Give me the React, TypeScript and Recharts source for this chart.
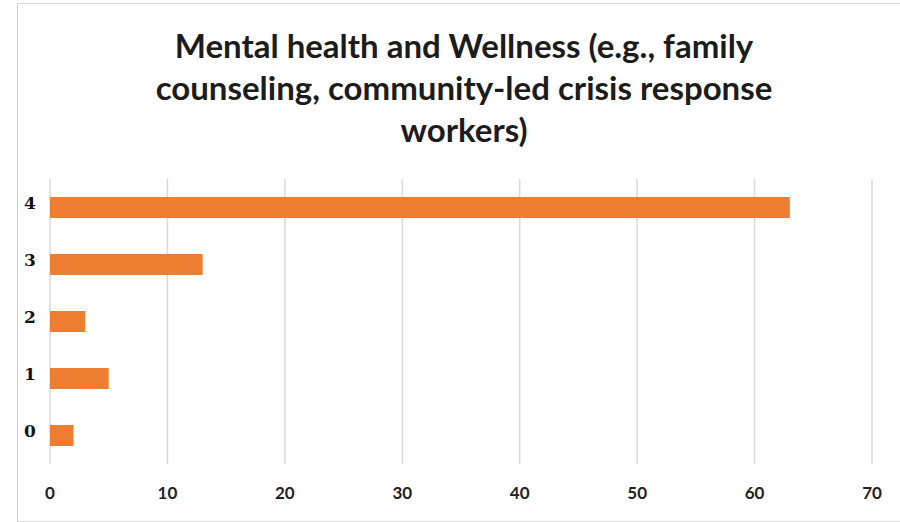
import { BarChart, Bar, XAxis, YAxis, CartesianGrid } from 'recharts';

const categories = ['4', '3', '2', '1', '0'];
const counts = [63, 13, 3, 5, 2];
const xTicks = [0, 10, 20, 30, 40, 50, 60, 70];
const titleLines = [
  'Mental health and Wellness (e.g., family',
  'counseling, community-led crisis response',
  'workers)',
];

const data = categories.map((c, i) => ({ name: c, value: counts[i] }));

const YTick = ({ y, payload }: any) => (
  <text
    x={30}
    y={y - 5}
    textAnchor="middle"
    dominantBaseline="central"
    fontFamily="'DejaVu Serif', serif"
    fontWeight="bold"
    fontSize={17}
    fill="#111"
  >
    {payload.value}
  </text>
);

const XTick = ({ x, y, payload }: any) => (
  <text
    x={x}
    y={y}
    dy={20}
    textAnchor="middle"
    dominantBaseline="central"
    fontFamily="Lato, sans-serif"
    fontWeight="bold"
    fontSize={17}
    fill="#222"
  >
    {payload.value}
  </text>
);

export default function App() {
  return (
    <div
      style={{
        position: 'absolute',
        left: 0,
        top: 0,
        width: 900,
        height: 522,
        background: '#fff',
      }}
    >
      <div
        style={{
          position: 'absolute',
          left: 17,
          top: 3,
          width: 900,
          height: 517,
          borderLeft: '1px solid #cfcfcf',
          borderTop: '1px solid #d8d8d8',
          borderBottom: '1px solid #d8d8d8',
        }}
      />
      <div
        style={{
          position: 'absolute',
          left: 28,
          top: 24,
          width: 872,
          textAlign: 'center',
          fontFamily: 'Lato, sans-serif',
          fontWeight: 'bold',
          fontSize: 33,
          lineHeight: '42px',
          color: '#1c1c1c',
        }}
      >
        {titleLines.map((l, i) => (
          <div key={i}>{l}</div>
        ))}
      </div>
      <BarChart
        width={900}
        height={522}
        data={data}
        layout="vertical"
        margin={{ top: 179, right: 28, bottom: 18, left: 0 }}
        barCategoryGap={18}
      >
        <CartesianGrid horizontal={false} stroke="#d9d9d9" strokeWidth={1.5} />
        <XAxis
          type="number"
          domain={[0, 70]}
          ticks={xTicks}
          axisLine={false}
          tickLine={false}
          height={40}
          tick={<XTick />}
          interval={0}
        />
        <YAxis
          type="category"
          dataKey="name"
          width={50}
          axisLine={false}
          tickLine={false}
          tick={<YTick />}
          interval={0}
        />
        <Bar dataKey="value" fill="#ED7D31" barSize={21} isAnimationActive={false} />
      </BarChart>
    </div>
  );
}
